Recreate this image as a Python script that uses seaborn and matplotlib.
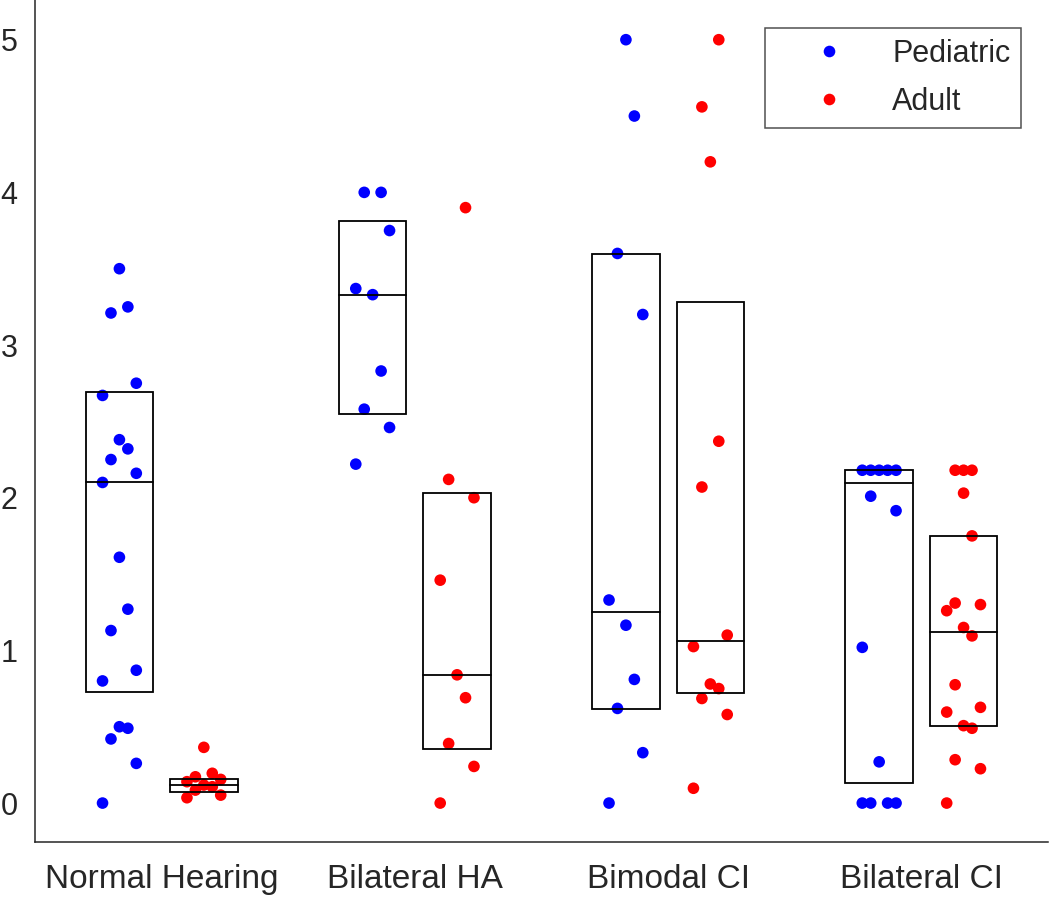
import numpy as np
import pandas as pd
import matplotlib
matplotlib.use('Agg')
import matplotlib.pyplot as plt
from matplotlib.patches import Rectangle
import seaborn as sns

sns.set_style('white')
plt.rcParams['font.family'] = ['Liberation Sans', 'DejaVu Sans']

groups = ['Normal Hearing', 'Bilateral HA', 'Bimodal CI', 'Bilateral CI']
cohorts = ['Pediatric', 'Adult']

# scores, one list per group and cohort
ped_nh = [0.0, 0.26, 0.42, 0.49, 0.50, 0.80, 0.87, 1.13, 1.27, 1.61,
          2.10, 2.16, 2.25, 2.32, 2.38, 2.67, 2.75, 3.21, 3.25, 3.50]
adu_nh = [0.035, 0.052, 0.085, 0.107, 0.118, 0.14, 0.155, 0.172, 0.195, 0.365]
ped_ha = [2.22, 2.46, 2.58, 2.83, 3.33, 3.37, 3.75, 4.0, 4.0]
adu_ha = [0.0, 0.24, 0.39, 0.69, 0.84, 1.46, 2.00, 2.12, 3.90]
ped_bm = [0.0, 0.33, 0.62, 0.81, 1.165, 1.33, 3.20, 3.60, 4.50, 5.00]
adu_bm = [0.097, 0.58, 0.685, 0.75, 0.78, 1.025, 1.10, 2.07, 2.37, 4.20, 4.56, 5.00]
ped_ci = [0.0, 0.0, 0.0, 0.0, 0.27, 1.02, 1.915, 2.01, 2.18, 2.18, 2.18, 2.18, 2.18]
adu_ci = [0.0, 0.225, 0.284, 0.49, 0.507, 0.596, 0.627, 0.775, 1.095, 1.15,
          1.26, 1.30, 1.31, 1.75, 2.03, 2.18, 2.18, 2.18]

# box summaries (lower edge, middle line, upper edge) as drawn
ped_q1 = [0.729, 2.55, 0.617, 0.133]
ped_med = [2.10, 3.33, 1.25, 2.095]
ped_q3 = [2.69, 3.81, 3.595, 2.18]
adu_q1 = [0.074, 0.355, 0.72, 0.507]
adu_med = [0.118, 0.84, 1.06, 1.123]
adu_q3 = [0.155, 2.03, 3.285, 1.75]

data = {
    'Pediatric': [ped_nh, ped_ha, ped_bm, ped_ci],
    'Adult': [adu_nh, adu_ha, adu_bm, adu_ci],
}
stats = {
    'Pediatric': (ped_q1, ped_med, ped_q3),
    'Adult': (adu_q1, adu_med, adu_q3),
}
colors = {'Pediatric': '#0000ff', 'Adult': '#ff0000'}
offset = {'Pediatric': -1 / 6, 'Adult': 1 / 6}
step = 1 / 30
box_w = 0.8 / 3

# spread pattern used for the jitter columns
SPREAD = {1: [0], 2: [-1, 1], 3: [-1, 0, 1], 4: [-2, 2, -1, 1], 5: [-2, 2, -1, 1, 0]}


def slots(vals):
    v = np.asarray(vals, dtype=float)
    order = np.argsort(v, kind='stable')
    sv = v[order]
    n = len(sv)
    s = np.array([SPREAD[5][i % 5] for i in range(n)])
    rem = n % 5
    if rem and n > 5:
        s[n - rem:] = SPREAD[rem]
    elif n <= 5:
        s[:] = SPREAD[n]
    for val in np.unique(sv):
        idx = np.where(sv == val)[0]
        if 1 < len(idx) <= 5:
            s[idx] = SPREAD[len(idx)]
    out = np.empty(n)
    out[order] = s
    return out


rows = []
for c in cohorts:
    for gi, vals in enumerate(data[c]):
        js = slots(vals)
        for v, j in zip(vals, js):
            rows.append({'cohort': c, 'group': groups[gi], 'score': v,
                         'x': gi + 1 + offset[c] + j * step})
df = pd.DataFrame(rows)

ink = '#262626'
fig = plt.figure(figsize=(10.5, 8.99), dpi=100)
ax = fig.add_axes([35 / 1050, 57 / 899, 1013 / 1050, 842 / 899])

sns.scatterplot(data=df, x='x', y='score', hue='cohort', hue_order=cohorts,
                palette=colors, s=70, linewidth=0, ax=ax, zorder=2)

for c in cohorts:
    q1, med, q3 = stats[c]
    for gi in range(len(groups)):
        xc = gi + 1 + offset[c]
        ax.add_patch(Rectangle((xc - box_w / 2, q1[gi]), box_w, q3[gi] - q1[gi],
                               fill=False, edgecolor='black', lw=1.3, zorder=3))
        ax.plot([xc - box_w / 2, xc + box_w / 2], [med[gi], med[gi]],
                color='black', lw=1.3, zorder=3)

ax.set_xlim(0.5, 4.5)
ax.set_ylim(-0.255, 5.26)
ax.set_xticks(range(1, 5))
ax.set_xticklabels(groups)
ax.set_yticks(range(0, 6))
ax.set_xlabel('')
ax.set_ylabel('')
sns.despine(ax=ax)
for sp in ['left', 'bottom']:
    ax.spines[sp].set_color(ink)
    ax.spines[sp].set_linewidth(1.1)
ax.tick_params(axis='both', direction='in', length=7, width=1.0, color=ink,
               labelcolor=ink)
ax.tick_params(axis='x', pad=16, labelsize=24)
ax.tick_params(axis='y', pad=12.5, labelsize=22)

leg = ax.legend(loc='upper right', bbox_to_anchor=(1021 / 1050, 1 - 28 / 899),
                bbox_transform=fig.transFigure, frameon=True, fancybox=False,
                fontsize=22, borderpad=0.35, handlelength=3.5, handletextpad=0.3,
                labelspacing=0.6, borderaxespad=0)
leg.get_frame().set_edgecolor(ink)
leg.get_frame().set_linewidth(1.1)

fig.savefig('out.png', dpi=100)
